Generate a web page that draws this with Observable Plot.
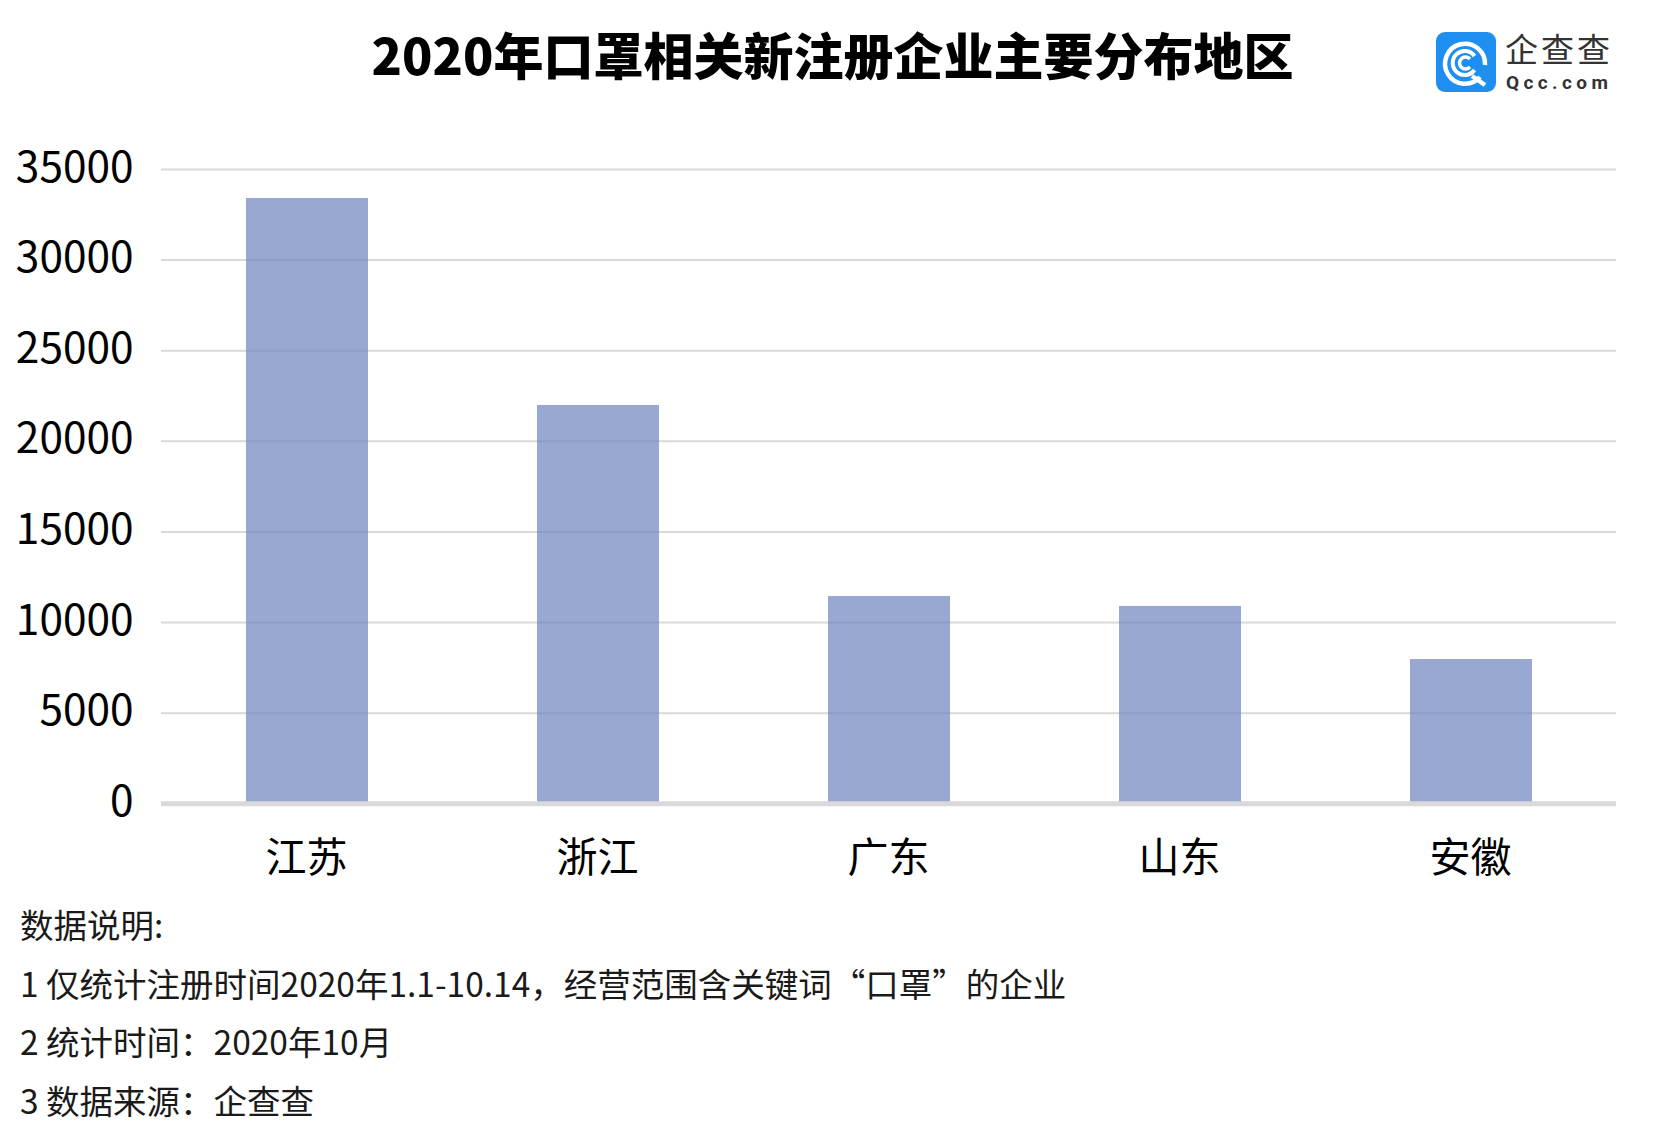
<!DOCTYPE html>
<html lang="zh">
<head>
<meta charset="utf-8">
<script src="https://cdn.jsdelivr.net/npm/d3@7"></script>
<script src="https://cdn.jsdelivr.net/npm/@observablehq/plot@0.6"></script>
<style>
html,body{margin:0;padding:0;background:#fff;width:1658px;height:1130px;overflow:hidden;font-family:"Noto Sans CJK SC","Noto Sans",sans-serif;color:#000}
#page{position:relative;width:1658px;height:1130px}
#head{position:relative;height:120px}
#title{position:absolute;left:0;top:17px;width:1665px;text-align:center;font-size:50px;font-weight:900;line-height:72px;white-space:nowrap}
#logo{position:absolute;left:1436px;top:0}
#chart{height:770px}
#chart svg{display:block}
#notes{position:absolute;left:20px;top:895px;font-size:33.5px;line-height:58.6px;white-space:nowrap;color:#1a1a1a}
</style>
</head>
<body>
<div id="page">
  <div id="head">
    <div id="title"></div>
    <svg id="logo" width="190" height="110" viewBox="0 -32 190 110">
      <rect x="0" y="0" width="60" height="60" rx="9" fill="#1e8ff0"/>
      <g fill="none" stroke="#fff" stroke-linecap="butt">
        <path d="M44 45 A20 20 0 1 1 49 33" stroke-width="4.5"/>
        <path d="M38.5 24 A12 12 0 1 0 38.5 38" stroke-width="4"/>
        <path d="M34 27 A6 6 0 1 0 34 35" stroke-width="3.5"/>
        <path d="M36 44 L49 53" stroke-width="4.5"/>
      </g>
      <text x="69" y="30" font-size="33" font-weight="400" fill="#333" letter-spacing="3">企查查</text>
      <text x="70" y="56.5" font-size="19" font-weight="700" fill="#333" letter-spacing="4.4" style="font-family:Roboto,sans-serif">Qcc.com</text>
    </svg>
  </div>
  <div id="chart"></div>
  <div id="notes"></div>
</div>
<script>
const titleText = "2020年口罩相关新注册企业主要分布地区";
const provinces = ["江苏", "浙江", "广东", "山东", "安徽"];
const counts = [33400, 21980, 11440, 10890, 7960];
const yTicks = [0, 5000, 10000, 15000, 20000, 25000, 30000, 35000];
const noteLines = [
  "数据说明:",
  "1 仅统计注册时间2020年1.1-10.14\uFF0C经营范围含关键词“口罩”的企业",
  "2 统计时间\uFF1A2020年10月",
  "3 数据来源\uFF1A企查查"
];

document.getElementById("title").textContent = titleText;
document.getElementById("notes").innerHTML = noteLines.map(t => `<div>${t}</div>`).join("");

const rows = provinces.map((p, i) => ({province: p, count: counts[i]}));

const chart = Plot.plot({
  width: 1658,
  height: 770,
  marginTop: 49,
  marginBottom: 86.7,
  marginLeft: 161,
  marginRight: 42,
  style: {background: "#fff", fontFamily: '"Noto Sans CJK SC","Noto Sans",sans-serif', color: "#000"},
  x: {domain: provinces, label: null, paddingInner: 0.581, paddingOuter: 0.2905},
  y: {domain: [0, 35000], label: null},
  marks: [
    Plot.ruleY(yTicks.filter(d => d > 0), {stroke: "#d9d9d9", strokeWidth: 2}),
    Plot.barY(rows, {x: "province", y: "count", fill: "#6c83c0", fillOpacity: 0.7}),
    Plot.ruleY([0], {stroke: "#d9d9d9", strokeWidth: 5}),
    Plot.axisY({ticks: yTicks, tickSize: 0, tickPadding: 28, fontSize: 42.4, dy: -1.5, tickFormat: d => String(d), label: null}),
    Plot.axisX({tickSize: 0, tickPadding: 39, fontSize: 41, dx: -1, label: null})
  ]
});
document.getElementById("chart").appendChild(chart);
</script>
</body>
</html>
